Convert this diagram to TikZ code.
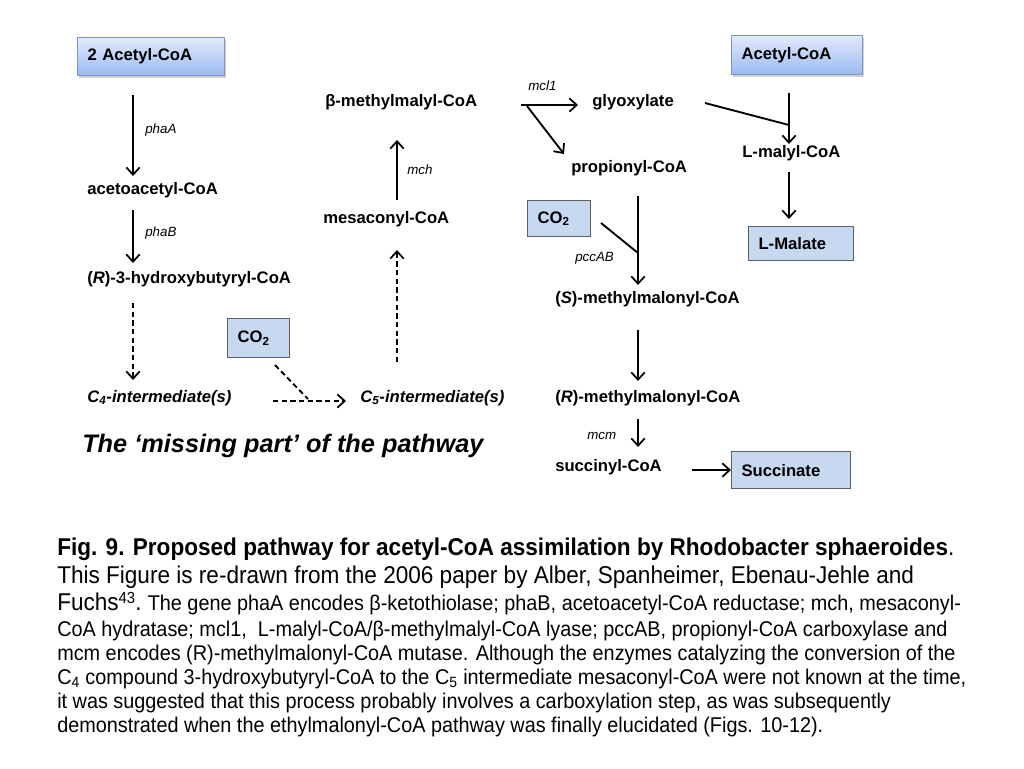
\documentclass[tikz,border=0pt]{standalone}
\usepackage{fontspec}
\setmainfont{Liberation Sans}
\newfontfamily\capfont[FakeStretch=0.93]{Liberation Sans}
\usetikzlibrary{arrows.meta,shadows}
\definecolor{boxfill}{RGB}{198,217,241}
\definecolor{boxline}{RGB}{95,95,95}
\definecolor{gradtop}{RGB}{226,234,252}
\definecolor{gradbot}{RGB}{155,186,242}
\definecolor{gradline}{RGB}{125,148,200}
\begin{document}
\begin{tikzpicture}[x=0.75pt,y=-0.75pt,
  lbl/.style={inner sep=0, anchor=west, font=\fontsize{12.5}{14}\selectfont\bfseries},
  enz/.style={inner sep=0, anchor=west, font=\fontsize{10}{12}\selectfont\itshape},
  boxbase/.style={anchor=north west, align=left, inner xsep=7.5pt, inner ysep=0pt,
     font=\fontsize{12.5}{14}\selectfont\bfseries},
  topbox/.style={boxbase, draw=gradline, line width=0.8pt, top color=gradtop, bottom color=gradbot,
     drop shadow={opacity=0.35, shadow xshift=1pt, shadow yshift=-2pt}},
  flatbox/.style={boxbase, draw=boxline, line width=0.8pt, fill=boxfill},
  arr/.style={line width=1.4pt, -{Straight Barb[length=5.5pt,width=10pt,line width=1.3pt]}},
  darr/.style={arr, dash pattern=on 4pt off 2.5pt},
  dln/.style={line width=1.4pt, dash pattern=on 4pt off 2.5pt},
  ln/.style={line width=1.4pt},
  capA/.style={inner sep=0, anchor=west, font=\capfont\fontsize{18.2}{20}\selectfont},
  capB/.style={inner sep=0, anchor=west, font=\capfont\fontsize{16}{18}\selectfont}
]
\useasboundingbox (0,0) rectangle (1024,768);
\fill[white] (0,0) rectangle (1024,768);

% boxes
\node[topbox, text width=95.25pt, minimum height=28.5pt] (acA2) at (77,37) {2 Acetyl-CoA};
\node[topbox, text width=83.25pt, minimum height=29.25pt] (acA) at (731,35) {Acetyl-CoA};
\node[flatbox, text width=63.75pt, minimum height=25.5pt] (malate) at (748,226) {L-Malate};
\node[flatbox, text width=74.25pt, minimum height=27.75pt] (succinate) at (731,451) {Succinate};
\node[flatbox, text width=31.5pt, minimum height=29.25pt] (co2a) at (227,318) {CO\textsubscript{2}};
\node[flatbox, text width=32.25pt, minimum height=27pt] (co2b) at (527,200) {CO\textsubscript{2}};

% metabolites
\node[lbl] (acac) at (87,190) {acetoacetyl-CoA};
\node[lbl] (hb) at (87,279) {(\textit{R})-3-hydroxybutyryl-CoA};
\node[lbl] (c4) at (87,398) {\textit{C\textsubscript{4}-intermediate(s)}};
\node[lbl] (c5) at (360,398) {\textit{C\textsubscript{5}-intermediate(s)}};
\node[lbl] (mesa) at (323,219) {mesaconyl-CoA};
\node[lbl] (bmm) at (325,102) {β-methylmalyl-CoA};
\node[lbl] (glyox) at (592,102) {glyoxylate};
\node[lbl] (lmal) at (742,153) {L-malyl-CoA};
\node[lbl] (prop) at (571,168) {propionyl-CoA};
\node[lbl] (smm) at (555,299) {(\textit{S})-methylmalonyl-CoA};
\node[lbl] (rmm) at (555,398) {(\textit{R})-methylmalonyl-CoA};
\node[lbl] (succ) at (555,467) {succinyl-CoA};
\node[inner sep=0, anchor=west, font=\fontsize{19}{22}\selectfont\bfseries\itshape] (missing) at (82,446) {The ‘missing part’ of the pathway};

% enzyme labels
\node[enz] (phaA) at (145,130) {phaA};
\node[enz] (phaB) at (145,233) {phaB};
\node[enz] (mch) at (407,170) {mch};
\node[enz] (mcl) at (528,86) {mcl1};
\node[enz] (pcc) at (575,258) {pccAB};
\node[enz] (mcm) at (587,436) {mcm};

% connector end points
\coordinate (a1) at (133,95);  \coordinate (a2) at (133,176);
\coordinate (b1) at (133,210); \coordinate (b2) at (133,263);
\coordinate (c1) at (133,303); \coordinate (c2) at (133,380);
\coordinate (d1) at (275,365); \coordinate (d2) at (308,399);
\coordinate (e1) at (273,401); \coordinate (e2) at (346,401);
\coordinate (f1) at (397,362); \coordinate (f2) at (397,250);
\coordinate (g1) at (397,200); \coordinate (g2) at (397,140);
\coordinate (h1) at (521,105); \coordinate (h2) at (578,105);
\coordinate (i1) at (527,106); \coordinate (i2) at (564,154);
\coordinate (j1) at (705,103); \coordinate (j2) at (789,125);
\coordinate (k1) at (789,93);  \coordinate (k2) at (789,144);
\coordinate (l1) at (789,172); \coordinate (l2) at (789,219);
\coordinate (m1) at (638,196); \coordinate (m2) at (638,285);
\coordinate (n1) at (601,223); \coordinate (n2) at (638,253);
\coordinate (o1) at (638,330); \coordinate (o2) at (638,381);
\coordinate (p1) at (638,419); \coordinate (p2) at (638,447);
\coordinate (q1) at (692,470); \coordinate (q2) at (731,470);

\draw[arr] (a1) -- (a2);
\draw[arr] (b1) -- (b2);
\draw[darr] (c1) -- (c2);
\draw[dln] (d1) -- (d2);
\draw[darr] (e1) -- (e2);
\draw[darr] (f1) -- (f2);
\draw[arr] (g1) -- (g2);
\draw[arr] (h1) -- (h2);
\draw[arr] (i1) -- (i2);
\draw[ln] (j1) -- (j2);
\draw[arr] (k1) -- (k2);
\draw[arr] (l1) -- (l2);
\draw[arr] (m1) -- (m2);
\draw[ln] (n1) -- (n2);
\draw[arr] (o1) -- (o2);
\draw[arr] (p1) -- (p2);
\draw[arr] (q1) -- (q2);

% caption
\node[capA] (cap1) at (57,549) {\textbf{Fig. 9. Proposed pathway for acetyl-CoA assimilation by Rhodobacter sphaeroides}.};
\node[capA] (cap2) at (57,577) {This Figure is re-drawn from the 2006 paper by Alber, Spanheimer, Ebenau-Jehle and};
\node[capA] (cap3) at (57,604) {Fuchs{\fontsize{12}{14}\selectfont\raisebox{0.45em}{43}}.\ {\fontsize{16}{18}\selectfont The gene phaA encodes β-ketothiolase; phaB, acetoacetyl-CoA reductase; mch, mesaconyl-}};
\node[capB] (cap4) at (57,631) {CoA hydratase; mcl1,\ \ L-malyl-CoA/β-methylmalyl-CoA lyase; pccAB, propionyl-CoA carboxylase and};
\node[capB] (cap5) at (57,655) {mcm encodes (R)-methylmalonyl-CoA mutase. Although the enzymes catalyzing the conversion of the};
\node[capB] (cap6) at (57,679) {C\textsubscript{4} compound 3-hydroxybutyryl-CoA to the C\textsubscript{5} intermediate mesaconyl-CoA were not known at the time,};
\node[capB] (cap7) at (57,703) {it was suggested that this process probably involves a carboxylation step, as was subsequently};
\node[capB] (cap8) at (57,727) {demonstrated when the ethylmalonyl-CoA pathway was finally elucidated (Figs. 10-12).};
\end{tikzpicture}
\end{document}
